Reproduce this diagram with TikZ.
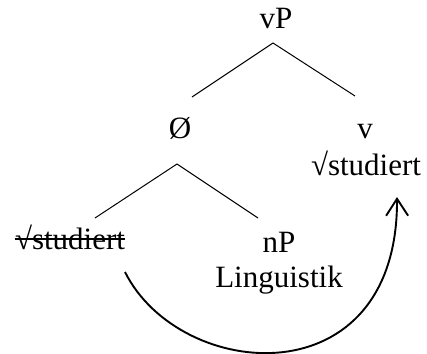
\documentclass[tikz,border=0pt]{standalone}
\usepackage{fontspec}
\setmainfont{Liberation Serif}
\usetikzlibrary{arrows.meta}
\tikzset{
  cat/.style={inner sep=0pt, anchor=base},
  branch/.style={line width=0.5pt},
  move/.style={line width=0.95pt, -{Straight Barb[length=8.5pt, width=11pt]}},
  strike/.style={line width=0.7pt},
}

\begin{document}
\begin{tikzpicture}[x=0.5pt, y=-0.5pt, font=\fontsize{15.5}{18}\selectfont]
  \useasboundingbox (0,0) rectangle (427,353);
  % Upper level
  \node[cat] (vP) at (276,29) {vP};
  \node[cat] (null) at (180,138) {Ø};
  \node[cat] (v) at (365,138) {v};
  \node[cat] (vroot) at (366,175) {√studiert};
  \draw[branch] ([shift={(-3,14)}]vP.base) -- ([shift={(12,-41)}]null.base);
  \draw[branch] ([shift={(-3,14)}]vP.base) -- ([shift={(-10,-42)}]v.base);
  % Lower level
  \node[cat] (low) at (70,249) {√studiert};
  \node[cat] (nP) at (279,252) {nP};
  \node[cat] (ling) at (279,287) {Linguistik};
  \draw[branch] ([shift={(-3,26)}]null.base) -- ([shift={(25,-31)}]low.base);
  \draw[branch] ([shift={(-3,26)}]null.base) -- ([shift={(-21,-34)}]nP.base);
  \draw[strike] ([yshift=5pt]low.base west) -- ([yshift=5pt]low.base east);
  % Movement
  \draw[move] ([shift={(55,23)}]low.base) .. controls (180,382) and (398,400)
    .. ([shift={(31,22)}]vroot.base);
\end{tikzpicture}
\end{document}
